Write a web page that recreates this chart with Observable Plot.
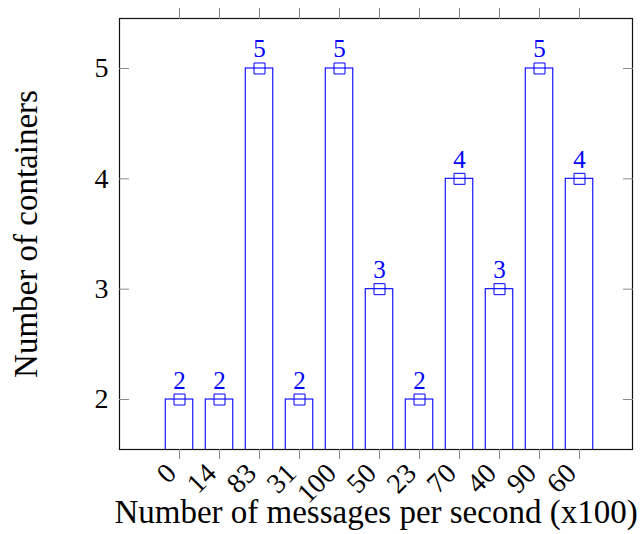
<!DOCTYPE html>
<html>
<head>
<meta charset="utf-8">
<script src="https://cdn.jsdelivr.net/npm/d3@7"></script>
<script src="https://cdn.jsdelivr.net/npm/@observablehq/plot@0.6"></script>
<style>
  html, body { margin: 0; padding: 0; background: white; }
</style>
</head>
<body>
<div id="chart"></div>
<script>
const categories = ["0", "14", "83", "31", "100", "50", "23", "70", "40", "90", "60"];
const counts = [2, 2, 5, 2, 5, 3, 2, 4, 3, 5, 4];
const yTicks = [2, 3, 4, 5];
const xTitle = "Number of messages per second (x100)";
const yTitle = "Number of containers";

const data = categories.map((c, i) => ({cat: c, value: counts[i]}));

const blue = "#0000ff";
const tickGray = "#8a8a8a";

const chart = Plot.plot({
  width: 643,
  height: 534,
  marginLeft: 119,
  marginRight: 11,
  marginTop: 18,
  marginBottom: 85,
  style: {fontFamily: "'Liberation Serif', 'Times New Roman', serif", fontSize: "28px", background: "white", color: "black"},
  x: {type: "band", domain: categories, range: [159, 599], paddingInner: 0.3125, paddingOuter: 0.15625, round: false, axis: null},
  y: {domain: [1.547, 5.453], axis: null},
  marks: [
    Plot.rectY(data, {x: "cat", y1: 0, y2: "value", fill: "white", stroke: blue, strokeWidth: 1.1, clip: true}),
    Plot.dot(data, {x: "cat", y: "value", symbol: "square", r: 6.2, stroke: blue, fill: "none", strokeWidth: 1}),
    Plot.text(data, {x: "cat", y: "value", text: d => String(d.value), dy: -11, lineAnchor: "bottom", fill: blue, fontSize: 25}),
    Plot.frame({stroke: "#111", strokeWidth: 1.2}),
    // y ticks inside (left and right)
    Plot.axisY(yTicks, {anchor: "left", tickSize: 10, insetLeft: 10, fill: "none", stroke: tickGray, label: null}),
    Plot.axisY(yTicks, {anchor: "right", tickSize: 10, insetRight: 10, fill: "none", stroke: tickGray, label: null}),
    Plot.axisY(yTicks, {anchor: "left", tickSize: 0, tickPadding: 11, tickFormat: d3.format("d"), fontSize: 28, label: null}),
    // x ticks top and bottom
    Plot.axisX({anchor: "top", tickSize: 11, fill: "none", stroke: tickGray, label: null}),
    Plot.axisX({anchor: "bottom", tickSize: 10, fill: "none", stroke: tickGray, label: null}),
    Plot.axisX({anchor: "bottom", tickSize: 0, tickPadding: 19, dx: -8, tickRotate: -45, textAnchor: "end", lineAnchor: "middle", fontSize: 28, label: null}),
    // axis titles
    Plot.text([xTitle], {frameAnchor: "bottom", text: d => d, dy: 73, textAnchor: "middle", lineAnchor: "bottom", fontSize: 33}),
    Plot.text([yTitle], {frameAnchor: "left", text: d => d, dx: -93, rotate: -90, textAnchor: "middle", lineAnchor: "middle", fontSize: 33})
  ]
});
document.getElementById("chart").appendChild(chart);
</script>
</body>
</html>
